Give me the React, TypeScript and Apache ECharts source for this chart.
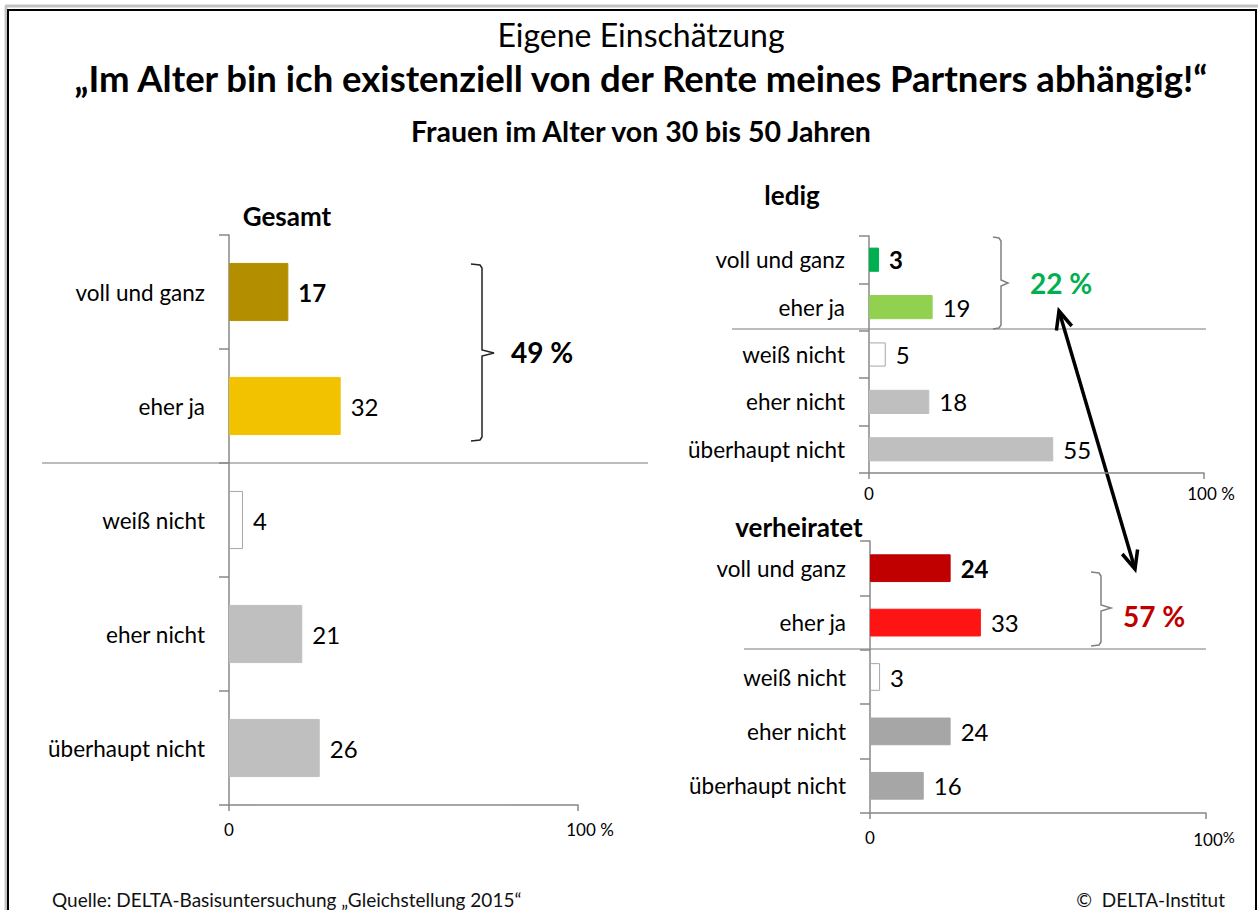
import React, { useEffect, useRef } from 'react';
import * as echarts from 'echarts';

// ---- data ----
const categories = ['voll und ganz', 'eher ja', 'weiß nicht', 'eher nicht', 'überhaupt nicht'];
const gesamtValues = [17, 32, 4, 21, 26];
const ledigValues = [3, 19, 5, 18, 55];
const verheiratetValues = [24, 33, 3, 24, 16];
const axisTickValues = [0, 100];
const panelTitles = ['Gesamt', 'ledig', 'verheiratet'];

// ---- styles ----
const gesamtColors = ['#b38f00', '#f2c200', '#ffffff', '#bfbfbf', '#bfbfbf'];
const ledigColors = ['#00b050', '#92d050', '#ffffff', '#bfbfbf', '#bfbfbf'];
const verheiratetColors = ['#c00000', '#ff1414', '#ffffff', '#a6a6a6', '#a6a6a6'];

const FONT = 'Lato, "Open Sans", sans-serif';
const AXIS_COLOR = '#888888';

function txt(text: string, x: number, y: number, size: number, weight: string, align: string, color = '#000') {
  return {
    type: 'text',
    x,
    y,
    silent: true,
    style: {
      text,
      fontSize: size,
      fontWeight: weight,
      fontFamily: FONT,
      fill: color,
      align,
      textAlign: align,
      verticalAlign: 'middle',
      textVerticalAlign: 'middle',
    },
  };
}

function bracket(x0: number, xv: number, xt: number, top: number, mid: number, bottom: number, color: string) {
  return {
    type: 'polyline',
    silent: true,
    shape: {
      points: [
        [x0, top],
        [xv - 2, top + 1],
        [xv, top + 4],
        [xv, mid - 3],
        [xt, mid],
        [xv, mid + 3],
        [xv, bottom - 4],
        [xv - 2, bottom - 1],
        [x0, bottom],
      ],
    },
    style: { stroke: color, lineWidth: 1.5, fill: 'none' },
  };
}

function arrowHead(tip: number[], from: number[]) {
  const dx = tip[0] - from[0];
  const dy = tip[1] - from[1];
  const len = Math.sqrt(dx * dx + dy * dy);
  const ux = dx / len;
  const uy = dy / len;
  const px = -uy;
  const py = ux;
  const back = 18;
  const half = 8;
  return {
    type: 'polyline',
    silent: true,
    shape: {
      points: [
        [tip[0] - ux * back + px * half, tip[1] - uy * back + py * half],
        [tip[0], tip[1]],
        [tip[0] - ux * back - px * half, tip[1] - uy * back - py * half],
      ],
    },
    style: { stroke: '#000', lineWidth: 3.5, fill: 'none' },
  };
}

function seriesData(values: number[], colors: string[]) {
  return values.map((v, i) => ({
    value: v,
    itemStyle: {
      color: colors[i],
      borderColor: colors[i] === '#ffffff' ? '#a6a6a6' : colors[i],
      borderWidth: 1,
    },
    label: { fontWeight: i === 0 ? 'bold' : 'normal' },
  }));
}

const grids = [
  { left: 229, top: 235, width: 349, height: 570 },
  { left: 869, top: 236, width: 335, height: 237 },
  { left: 870, top: 541, width: 336, height: 272 },
];
const xLabelMargins = [16, 12, 16];
const maxLabelPad = [24, 14, 16];

function buildOption() {
  const sets = [
    { values: gesamtValues, colors: gesamtColors },
    { values: ledigValues, colors: ledigColors },
    { values: verheiratetValues, colors: verheiratetColors },
  ];
  const xAxis = grids.map((_, i) => ({
    type: 'value',
    gridIndex: i,
    min: axisTickValues[0],
    max: axisTickValues[axisTickValues.length - 1],
    interval: 100,
    splitLine: { show: false },
    axisLine: { show: true, lineStyle: { color: AXIS_COLOR, width: 1.5 } },
    axisTick: { show: true, length: 6, lineStyle: { color: AXIS_COLOR, width: 1.5 } },
    axisLabel: {
      show: true,
      color: '#000',
      fontFamily: FONT,
      fontSize: 17,
      margin: xLabelMargins[i],
      formatter: (v: number) => {
        if (v === 0) return '0';
        return i === 2 ? '{p|100}{s|%}' : '{p|100 %}';
      },
      rich: {
        p: { fontSize: 17, fontFamily: FONT, color: '#000', padding: [0, 0, 0, maxLabelPad[i]] },
        s: { fontSize: 15, fontFamily: FONT, color: '#000', padding: [0, 0, 6, 0] },
      },
    },
  }));
  const yAxis = grids.map((_, i) => ({
    type: 'category',
    gridIndex: i,
    data: categories,
    inverse: true,
    axisLine: { show: true, lineStyle: { color: AXIS_COLOR, width: 1.5 } },
    axisTick: { show: true, length: 10, lineStyle: { color: AXIS_COLOR, width: 1.5 } },
    axisLabel: { color: '#000', fontFamily: FONT, fontSize: 22.5, margin: 24 },
  }));
  const series = sets.map((s, i) => ({
    type: 'bar',
    xAxisIndex: i,
    yAxisIndex: i,
    barWidth: '51%',
    data: seriesData(s.values, s.colors),
    label: {
      show: true,
      position: 'right',
      distance: 10,
      color: '#000',
      fontFamily: FONT,
      fontSize: 24,
      formatter: '{c}',
    },
  }));

  const gesamtSum = gesamtValues[0] + gesamtValues[1];
  const ledigSum = ledigValues[0] + ledigValues[1];
  const verhSum = verheiratetValues[0] + verheiratetValues[1];

  const arrowA = [1059, 311];
  const arrowB = [1135, 569];

  const graphic = [
    // frame
    { type: 'line', silent: true, shape: { x1: 5, y1: 6, x2: 1258, y2: 6 }, style: { stroke: '#c3c3c3', lineWidth: 3 } },
    { type: 'line', silent: true, shape: { x1: 6, y1: 6, x2: 6, y2: 910 }, style: { stroke: '#c3c3c3', lineWidth: 3 } },
    { type: 'rect', silent: true, shape: { x: 8, y: 10, width: 1248, height: 920 }, style: { stroke: '#000', lineWidth: 2, fill: 'none' } },
    // titles
    txt('Eigene Einschätzung', 641, 34, 32, 'normal', 'center'),
    txt('„Im Alter bin ich existenziell von der Rente meines Partners abhängig!“', 641, 78, 36.5, 'bold', 'center'),
    txt('Frauen im Alter von 30 bis 50 Jahren', 641, 131, 28.5, 'bold', 'center'),
    txt(panelTitles[0], 287, 216, 26, 'bold', 'center'),
    txt(panelTitles[1], 792, 195, 26, 'bold', 'center'),
    txt(panelTitles[2], 799, 527, 26, 'bold', 'center'),
    // separators
    { type: 'line', silent: true, shape: { x1: 42, y1: 463, x2: 648, y2: 463 }, style: { stroke: '#a6a6a6', lineWidth: 1.5 } },
    { type: 'line', silent: true, shape: { x1: 732, y1: 329, x2: 1206, y2: 329 }, style: { stroke: '#a6a6a6', lineWidth: 1.5 } },
    { type: 'line', silent: true, shape: { x1: 744, y1: 649, x2: 1206, y2: 649 }, style: { stroke: '#a6a6a6', lineWidth: 1.5 } },
    // brackets
    bracket(471, 482, 494, 264, 353, 441, '#222'),
    bracket(993, 1001, 1008, 237, 283, 329, '#808080'),
    bracket(1091, 1101, 1111, 572, 608, 646, '#808080'),
    // sums
    txt(`${gesamtSum} %`, 511, 352, 28, 'bold', 'left'),
    txt(`${ledigSum} %`, 1030, 283, 28, 'bold', 'left', '#00b050'),
    txt(`${verhSum} %`, 1123, 616, 28, 'bold', 'left', '#c00000'),
    // arrow
    { type: 'line', silent: true, shape: { x1: arrowA[0], y1: arrowA[1], x2: arrowB[0], y2: arrowB[1] }, style: { stroke: '#000', lineWidth: 3.5 } },
    arrowHead(arrowA, arrowB),
    arrowHead(arrowB, arrowA),
    // footer
    txt('Quelle: DELTA-Basisuntersuchung „Gleichstellung 2015“', 52, 899, 19, 'normal', 'left', '#111'),
    txt('©  DELTA-Institut', 1225, 899, 19, 'normal', 'right', '#111'),
  ];

  return {
    animation: false,
    backgroundColor: '#ffffff',
    grid: grids,
    xAxis,
    yAxis,
    series,
    graphic,
  };
}

export default function App() {
  const ref = useRef<HTMLDivElement>(null);
  useEffect(() => {
    document.body.style.margin = '0';
    if (!ref.current) return;
    const chart = echarts.init(ref.current, undefined, { renderer: 'svg' });
    chart.setOption(buildOption() as any);
    return () => chart.dispose();
  }, []);
  return <div ref={ref} style={{ width: 1258, height: 910 }} />;
}
